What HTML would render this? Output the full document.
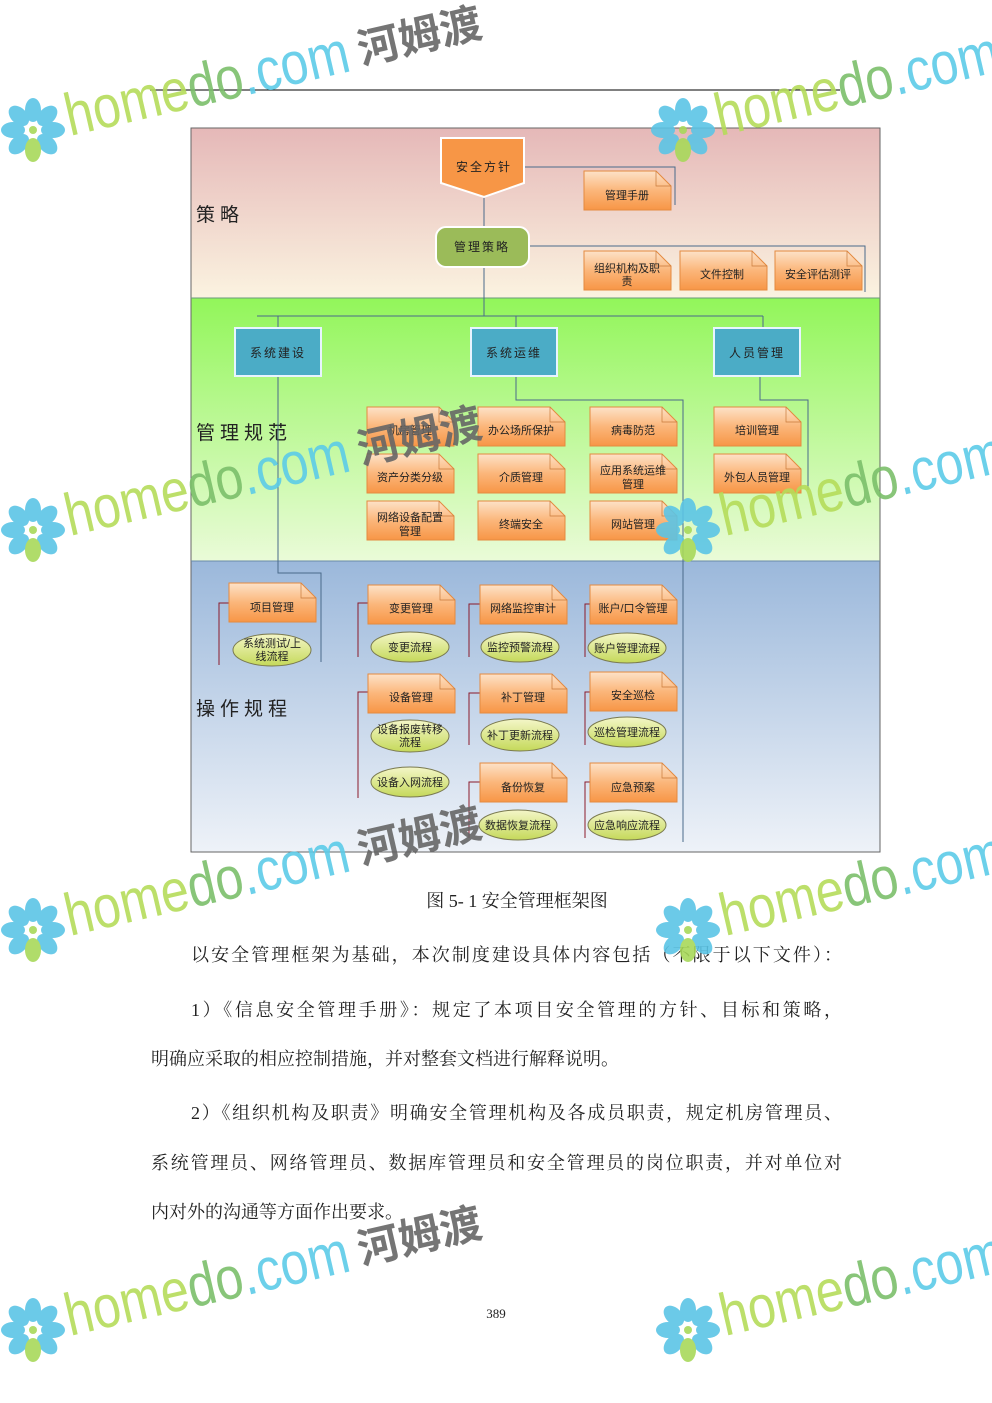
<!DOCTYPE html>
<html><head><meta charset="utf-8"><style>
html,body{margin:0;padding:0;background:#fff;}
svg{display:block;}
</style></head><body>
<svg width="992" height="1403" viewBox="0 0 992 1403" xmlns="http://www.w3.org/2000/svg" font-family="Liberation Sans, Noto Sans CJK SC, sans-serif">
<defs>
<linearGradient id="b1" x1="0" y1="0" x2="0" y2="1"><stop offset="0" stop-color="#e5b8b8"/><stop offset="1" stop-color="#fbf3e0"/></linearGradient>
<linearGradient id="b2" x1="0" y1="0" x2="0" y2="1"><stop offset="0" stop-color="#92f65a"/><stop offset="1" stop-color="#eafbd8"/></linearGradient>
<linearGradient id="b3" x1="0" y1="0" x2="0" y2="1"><stop offset="0" stop-color="#9bb8db"/><stop offset="1" stop-color="#eef2f8"/></linearGradient>
<linearGradient id="or" x1="0" y1="0" x2="0" y2="1"><stop offset="0" stop-color="#fde2c8"/><stop offset="0.5" stop-color="#fbb67a"/><stop offset="1" stop-color="#f79646"/></linearGradient>
<linearGradient id="el" x1="0" y1="0" x2="0" y2="1"><stop offset="0" stop-color="#f4f6c8"/><stop offset="1" stop-color="#c5d95a"/></linearGradient>
<g id="note"><path d="M0 0 H72 L87 15 V39 H0 Z" fill="url(#or)" stroke="#e48a40" stroke-width="1"/><path d="M72 0 V15 H87" fill="none" stroke="#c87a3a" stroke-width="0.7"/></g>
<g id="wm">
 <g transform="translate(33,130)">
  <g fill="#5bc4e6">
   <ellipse cx="0" cy="-20" rx="8" ry="12"/>
   <ellipse cx="0" cy="-20" rx="8" ry="12" transform="rotate(45)"/>
   <ellipse cx="0" cy="-20" rx="8" ry="12" transform="rotate(90)"/>
   <ellipse cx="0" cy="-20" rx="8" ry="12" transform="rotate(135)"/>
   <ellipse cx="0" cy="-20" rx="8" ry="12" transform="rotate(225)"/>
   <ellipse cx="0" cy="-20" rx="8" ry="12" transform="rotate(270)"/>
   <ellipse cx="0" cy="-20" rx="8" ry="12" transform="rotate(315)"/>
  </g>
  <ellipse cx="0" cy="20" rx="8" ry="12" fill="#a8d85a"/>
  <circle cx="0" cy="0" r="4" fill="#a8d85a"/>
 </g>
 <g transform="translate(70,136) rotate(-13)">
  <text x="0" y="0" font-size="60" textLength="290" lengthAdjust="spacingAndGlyphs"><tspan fill="#b5dc5a">home</tspan><tspan fill="#7bbf6a">do</tspan><tspan fill="#5ccbe8">.com</tspan></text>
  <text x="300" y="-4" font-size="42" font-weight="bold" fill="#666" font-family="Noto Sans CJK SC, sans-serif">河姆渡</text>
 </g>
</g>
</defs>

<line x1="150" y1="90" x2="840" y2="90" stroke="#000" stroke-width="1"/>

<!-- bands -->
<rect x="191" y="128" width="689" height="170" fill="url(#b1)"/>
<rect x="191" y="298" width="689" height="263" fill="url(#b2)"/>
<rect x="191" y="561" width="689" height="291" fill="url(#b3)"/>
<rect x="191" y="128" width="689" height="724" fill="none" stroke="#666" stroke-width="1"/>
<line x1="191" y1="298" x2="880" y2="298" stroke="#6a9a7a"/>
<line x1="191" y1="561" x2="880" y2="561" stroke="#6a8aa8"/>

<g font-family="Noto Sans CJK SC, sans-serif" font-size="19" fill="#222" letter-spacing="5">
<text x="196" y="221">策略</text>
<text x="196" y="439">管理规范</text>
<text x="196" y="715">操作规程</text>
</g>

<!-- connectors -->
<g fill="none" stroke="#4a6a8a" stroke-width="1">
<path d="M524 167 H675 V205"/>
<path d="M529 246 H865 V292"/>
<path d="M484 197 V316"/>
<path d="M257 316 H763"/>
<path d="M278 316 V328 M516 316 V328 M763 316 V328"/>
<path d="M516 376 V400 H683 V842"/>
<path d="M760 376 V400 H808 V490"/>
<path d="M278 376 V573 H321 V662"/>
</g>

<!-- top nodes -->
<path d="M441 138 H524 V183 L484 197 L441 183 Z" fill="#f79646" stroke="#fff" stroke-width="2"/>
<text x="484" y="171" text-anchor="middle" font-size="12" fill="#222" letter-spacing="2">安全方针</text>
<rect x="436" y="227" width="93" height="40" rx="10" fill="#9bbb59" stroke="#fff" stroke-width="2"/>
<text x="482" y="251" text-anchor="middle" font-size="12" fill="#222" letter-spacing="2">管理策略</text>

<g font-size="11" fill="#222" text-anchor="middle">
<use href="#note" transform="translate(584,171)"/><text x="627" y="199">管理手册</text>
<use href="#note" transform="translate(584,251)"/><text x="627" y="272">组织机构及职</text><text x="627" y="285">责</text>
<use href="#note" transform="translate(680,251)"/><text x="722" y="278">文件控制</text>
<use href="#note" transform="translate(775,251)"/><text x="818" y="278">安全评估测评</text>
</g>

<!-- blue boxes -->
<g stroke="#e8f4ff" stroke-width="2" fill="#4bacc6">
<rect x="235" y="328" width="86" height="48"/>
<rect x="471" y="328" width="86" height="48"/>
<rect x="714" y="328" width="86" height="48"/>
</g>
<g font-size="12" fill="#222" text-anchor="middle" letter-spacing="2">
<text x="278" y="357">系统建设</text><text x="514" y="357">系统运维</text><text x="757" y="357">人员管理</text>
</g>

<!-- management notes -->
<g font-size="11" fill="#222" text-anchor="middle">
<use href="#note" transform="translate(367,407)"/><text x="410" y="434">机房管理</text>
<use href="#note" transform="translate(478,407)"/><text x="521" y="434">办公场所保护</text>
<use href="#note" transform="translate(590,407)"/><text x="633" y="434">病毒防范</text>
<use href="#note" transform="translate(714,407)"/><text x="757" y="434">培训管理</text>
<use href="#note" transform="translate(367,454)"/><text x="410" y="481">资产分类分级</text>
<use href="#note" transform="translate(478,454)"/><text x="521" y="481">介质管理</text>
<use href="#note" transform="translate(590,454)"/><text x="633" y="474">应用系统运维</text><text x="633" y="488">管理</text>
<use href="#note" transform="translate(714,454)"/><text x="757" y="481">外包人员管理</text>
<use href="#note" transform="translate(367,501)"/><text x="410" y="521">网络设备配置</text><text x="410" y="535">管理</text>
<use href="#note" transform="translate(478,501)"/><text x="521" y="528">终端安全</text>
<use href="#note" transform="translate(590,501)"/><text x="633" y="528">网站管理</text>
</g>

<!-- brackets -->
<g fill="none" stroke="#8b1a2a" stroke-width="1">
<path d="M229 603 H219 V665"/>
<path d="M368 603 H358 V657"/>
<path d="M368 692 H358 V798"/>
<path d="M480 604 H469 V657"/>
<path d="M480 693 H469 V745"/>
<path d="M480 782 H469 V838"/>
<path d="M593 604 H585 V657"/>
<path d="M593 692 H585 V745"/>
<path d="M593 782 H585 V838"/>
</g>

<!-- procedure notes -->
<g font-size="11" fill="#222" text-anchor="middle">
<use href="#note" transform="translate(229,583)"/><text x="272" y="611">项目管理</text>
<use href="#note" transform="translate(368,585)"/><text x="411" y="612">变更管理</text>
<use href="#note" transform="translate(368,674)"/><text x="411" y="701">设备管理</text>
<use href="#note" transform="translate(480,585)"/><text x="523" y="612">网络监控审计</text>
<use href="#note" transform="translate(480,674)"/><text x="523" y="701">补丁管理</text>
<use href="#note" transform="translate(480,763)"/><text x="523" y="791">备份恢复</text>
<use href="#note" transform="translate(590,585)"/><text x="633" y="612">账户/口令管理</text>
<use href="#note" transform="translate(590,672)"/><text x="633" y="699">安全巡检</text>
<use href="#note" transform="translate(590,763)"/><text x="633" y="791">应急预案</text>
</g>

<!-- ellipses -->
<g fill="url(#el)" stroke="#7a7a50" stroke-width="1">
<ellipse cx="272" cy="650" rx="39" ry="16"/>
<ellipse cx="410" cy="647" rx="39" ry="15"/>
<ellipse cx="410" cy="736" rx="39" ry="16"/>
<ellipse cx="410" cy="782" rx="39" ry="15"/>
<ellipse cx="520" cy="647" rx="39" ry="15"/>
<ellipse cx="520" cy="735" rx="39" ry="16"/>
<ellipse cx="518" cy="825" rx="39" ry="15"/>
<ellipse cx="627" cy="648" rx="39" ry="15"/>
<ellipse cx="627" cy="732" rx="39" ry="15"/>
<ellipse cx="627" cy="825" rx="39" ry="15"/>
</g>
<g font-size="11" fill="#222" text-anchor="middle">
<text x="272" y="647">系统测试/上</text><text x="272" y="660">线流程</text>
<text x="410" y="651">变更流程</text>
<text x="410" y="733">设备报废转移</text><text x="410" y="746">流程</text>
<text x="410" y="786">设备入网流程</text>
<text x="520" y="651">监控预警流程</text>
<text x="520" y="739">补丁更新流程</text>
<text x="518" y="829">数据恢复流程</text>
<text x="627" y="652">账户管理流程</text>
<text x="627" y="736">巡检管理流程</text>
<text x="627" y="829">应急响应流程</text>
</g>

<!-- body text -->
<g font-family="Liberation Serif, Noto Serif CJK SC, serif" font-size="18" fill="#222">
<text x="517" y="907" text-anchor="middle">图 5- 1 安全管理框架图</text>
<text x="191" y="961" textLength="651" lengthAdjust="spacing">以安全管理框架为基础，本次制度建设具体内容包括（不限于以下文件）：</text>
<text x="191" y="1016" textLength="651" lengthAdjust="spacing">1）《信息安全管理手册》：规定了本项目安全管理的方针、目标和策略，</text>
<text x="151" y="1065">明确应采取的相应控制措施，并对整套文档进行解释说明。</text>
<text x="191" y="1119" textLength="651" lengthAdjust="spacing">2）《组织机构及职责》明确安全管理机构及各成员职责，规定机房管理员、</text>
<text x="151" y="1169" textLength="691" lengthAdjust="spacing">系统管理员、网络管理员、数据库管理员和安全管理员的岗位职责，并对单位对</text>
<text x="151" y="1218">内对外的沟通等方面作出要求。</text>
<text x="496" y="1318" text-anchor="middle" font-size="13">389</text>
</g>

<!-- watermarks -->
<g opacity="0.9">
<use href="#wm" transform="translate(0,0)"/>
<use href="#wm" transform="translate(650,0)"/>
<use href="#wm" transform="translate(0,400)"/>
<use href="#wm" transform="translate(655,400)"/>
<use href="#wm" transform="translate(0,800)"/>
<use href="#wm" transform="translate(655,800)"/>
<use href="#wm" transform="translate(0,1200)"/>
<use href="#wm" transform="translate(655,1200)"/>
</g>
</svg>
</body></html>
